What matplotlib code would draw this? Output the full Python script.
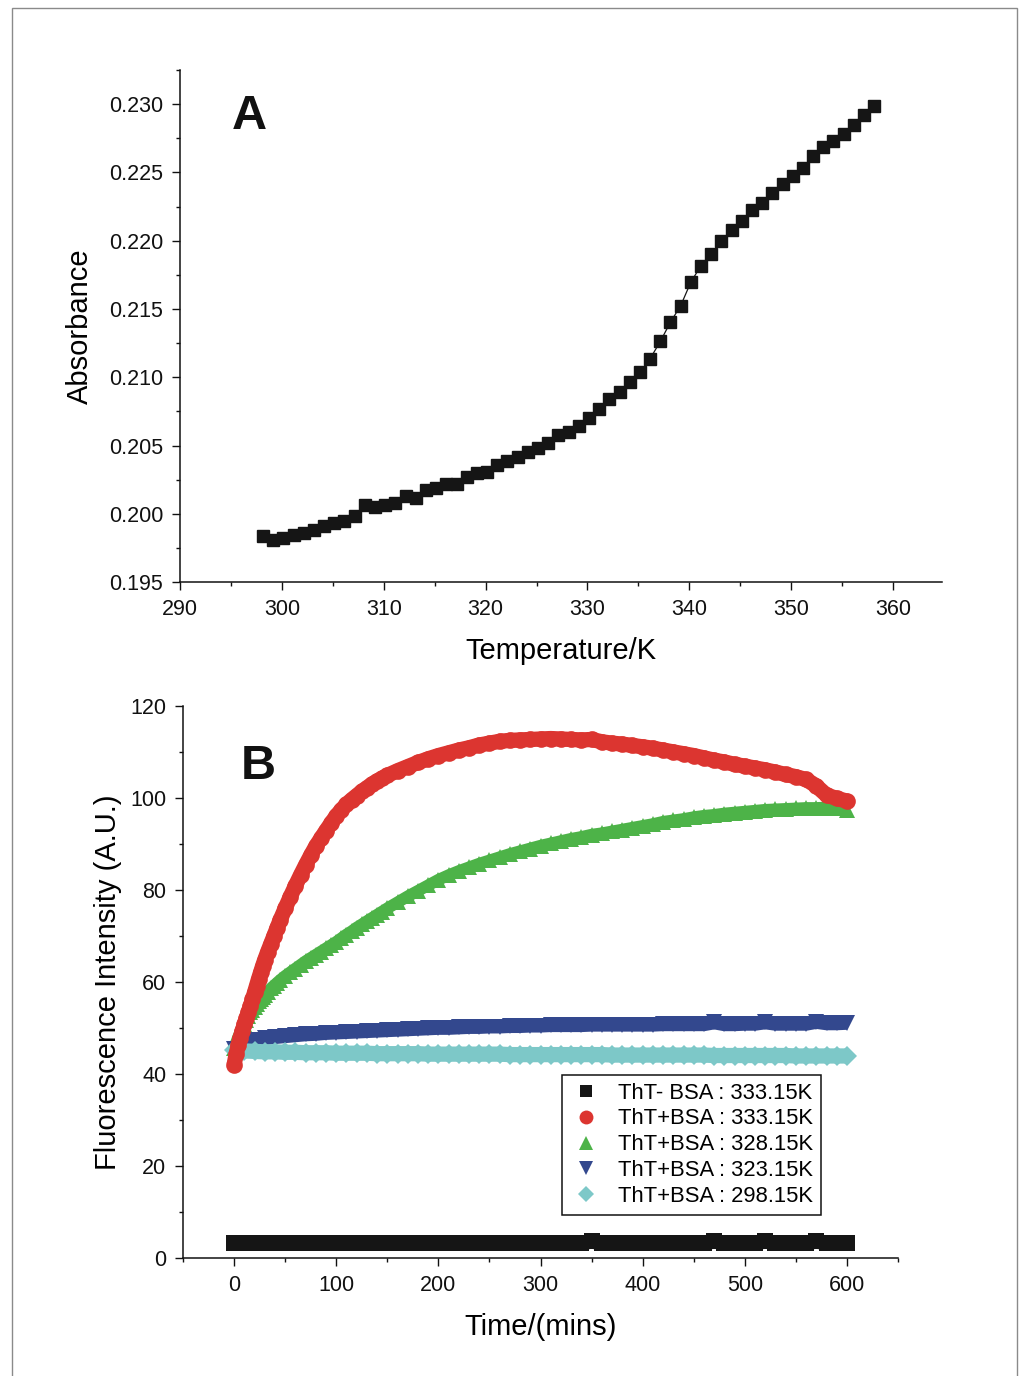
import numpy as np
import matplotlib
matplotlib.use("Agg")
import matplotlib.pyplot as plt
from matplotlib.patches import Rectangle
from matplotlib.lines import Line2D
from matplotlib.ticker import MultipleLocator, FormatStrFormatter

plt.rcParams["font.family"] = ["Liberation Sans", "DejaVu Sans"]

# --- panel A: absorbance vs temperature ---
temp_k = [298.15 + i for i in range(61)]
absorbance = [
    0.19836, 0.19809, 0.19825, 0.19846, 0.19862, 0.19880, 0.19914, 0.19930,
    0.19946, 0.19982, 0.20061, 0.20051, 0.20066, 0.20082, 0.20129, 0.20119,
    0.20171, 0.20187, 0.20218, 0.20218, 0.20271, 0.20297, 0.20308, 0.20360,
    0.20386, 0.20418, 0.20449, 0.20481, 0.20517, 0.20580, 0.20601, 0.20643,
    0.20701, 0.20769, 0.20837, 0.20890, 0.20963, 0.21036, 0.21136, 0.21262,
    0.21404, 0.21524, 0.21697, 0.21818, 0.21902, 0.21996, 0.22080, 0.22143,
    0.22222, 0.22279, 0.22347, 0.22416, 0.22473, 0.22536, 0.22620, 0.22683,
    0.22730, 0.22778, 0.22846, 0.22919, 0.22987,
]

# --- panel B: ThT fluorescence kinetics ---
t_fast = [
    0, 2, 4, 6, 8, 10, 12, 14, 16, 18, 20, 22, 24, 26, 28, 30, 33, 36, 39, 42,
    45, 50, 55, 60, 65, 70, 75, 80, 85, 90, 95, 100, 105, 110, 115, 120, 125,
    130, 135, 140, 145, 150, 160, 170, 180, 190, 200, 210, 220, 230, 240, 250,
    260, 270, 280, 290, 300, 310, 320, 330, 340, 350, 360, 370, 380, 390, 400,
    410, 420, 430, 440, 450, 460, 470, 480, 490, 500, 510, 520, 530, 540, 550,
    560, 570, 580, 590, 600,
]
t_slow = list(range(0, 610, 10))

tht_bsa_333 = [
    42.0, 44.3, 46.2, 47.9, 49.4, 50.8, 52.1, 53.4, 54.8, 56.2, 57.7, 59.2,
    60.7, 62.1, 63.5, 64.8, 66.6, 68.3, 70.0, 71.7, 73.4, 76.0, 78.5, 80.9,
    83.2, 85.4, 87.5, 89.5, 91.2, 92.9, 94.5, 96.1, 97.4, 98.6, 99.6, 100.5,
    101.4, 102.2, 103.0, 103.7, 104.3, 104.9, 105.9, 106.8, 107.7, 108.5,
    109.2, 109.8, 110.4, 110.9, 111.5, 111.9, 112.3, 112.5, 112.6, 112.7,
    112.8, 112.9, 112.8, 112.7, 112.6, 112.7, 112.2, 111.9, 111.7, 111.4,
    111.1, 110.8, 110.4, 110.0, 109.6, 109.2, 108.7, 108.2, 107.8, 107.3,
    106.9, 106.5, 106.1, 105.6, 105.1, 104.6, 104.0, 102.6, 100.6, 99.9, 99.3,
]
tht_bsa_328 = [
    45.6, 46.8, 48.0, 49.0, 50.0, 50.9, 51.8, 52.6, 53.4, 54.0, 54.6, 55.2,
    55.8, 56.3, 56.8, 57.2, 57.9, 58.6, 59.2, 59.8, 60.4, 61.3, 62.1, 62.9,
    63.7, 64.5, 65.2, 65.9, 66.6, 67.3, 68.0, 68.7, 69.5, 70.3, 71.0, 71.8,
    72.5, 73.2, 73.9, 74.6, 75.3, 76.0, 77.3, 78.6, 79.8, 81.0, 82.2, 83.2,
    84.1, 84.9, 85.7, 86.4, 87.1, 87.8, 88.4, 89.0, 89.6, 90.1, 90.6, 91.1,
    91.5, 92.0, 92.3, 92.7, 93.1, 93.5, 93.9, 94.3, 94.8, 95.1, 95.4, 95.8,
    96.1, 96.3, 96.6, 96.8, 97.0, 97.2, 97.4, 97.5, 97.6, 97.7, 97.8, 97.8,
    97.9, 97.7, 97.4,
]
tht_bsa_323 = [
    45.5, 46.8, 47.4, 47.8, 48.0, 48.2, 48.4, 48.6, 48.7, 48.9, 49.0, 49.1,
    49.2, 49.3, 49.4, 49.5, 49.6, 49.7, 49.8, 49.9, 50.0, 50.0, 50.1, 50.2,
    50.2, 50.3, 50.3, 50.4, 50.4, 50.5, 50.5, 50.6, 50.6, 50.6, 50.6, 50.7,
    50.7, 50.7, 50.7, 50.7, 50.7, 50.7, 50.8, 50.8, 50.8, 50.8, 50.8, 51.2,
    50.8, 50.8, 50.9, 50.9, 51.2, 50.9, 50.9, 50.9, 50.9, 51.3, 51.0, 51.0,
    51.1,
]
tht_bsa_298 = [
    45.3, 45.0, 44.9, 44.8, 44.8, 44.7, 44.7, 44.6, 44.6, 44.6, 44.5, 44.5,
    44.5, 44.5, 44.4, 44.4, 44.4, 44.4, 44.4, 44.3, 44.3, 44.3, 44.3, 44.3,
    44.3, 44.3, 44.3, 44.2, 44.2, 44.2, 44.2, 44.2, 44.2, 44.2, 44.2, 44.2,
    44.2, 44.1, 44.1, 44.1, 44.1, 44.1, 44.1, 44.1, 44.1, 44.1, 44.1, 44.0,
    44.0, 44.0, 44.0, 44.0, 44.0, 44.0, 44.0, 43.9, 43.9, 43.9, 43.9, 43.9,
    43.9,
]
tht_no_bsa_333 = [
    3.2, 3.2, 3.2, 3.2, 3.2, 3.2, 3.2, 3.2, 3.2, 3.2, 3.2, 3.2, 3.2, 3.2,
    3.2, 3.2, 3.2, 3.2, 3.2, 3.2, 3.2, 3.2, 3.2, 3.2, 3.2, 3.2, 3.2, 3.2,
    3.2, 3.2, 3.2, 3.2, 3.2, 3.2, 3.2, 3.6, 3.2, 3.2, 3.2, 3.2, 3.2, 3.2,
    3.2, 3.2, 3.2, 3.2, 3.2, 3.6, 3.2, 3.2, 3.2, 3.2, 3.6, 3.2, 3.2, 3.2,
    3.2, 3.6, 3.2, 3.2, 3.2,
]

legend_labels = [
    "ThT- BSA : 333.15K",
    "ThT+BSA : 333.15K",
    "ThT+BSA : 328.15K",
    "ThT+BSA : 323.15K",
    "ThT+BSA : 298.15K",
]

TICK_FS = 15.5
LABEL_FS = 21


def style_axes(ax):
    for side in ("top", "right"):
        ax.spines[side].set_visible(False)
    for side in ("left", "bottom"):
        ax.spines[side].set_linewidth(1.1)
        ax.spines[side].set_color("#111111")
    ax.tick_params(which="major", direction="out", length=5.5, width=1.0,
                   labelsize=TICK_FS, colors="#111111")
    ax.tick_params(axis="x", which="major", pad=7)
    ax.tick_params(axis="y", which="major", pad=6.5)
    ax.tick_params(which="minor", direction="out", length=3.0, width=1.0,
                   colors="#111111")


fig = plt.figure(figsize=(10.22, 13.76), dpi=100)

# thin grey border round the page
fig.add_artist(Rectangle((0.01174, -0.02), 0.98336, 1.01419,
                         transform=fig.transFigure, fill=False,
                         edgecolor="#8a8a8a", linewidth=1.0))

# panel A
axa = fig.add_axes([0.1761, 0.5770, 0.7456, 0.3721])
axa.plot(temp_k, absorbance, color="#151515", linewidth=0.9,
         marker="s", markersize=8.5, markerfacecolor="#151515",
         markeredgecolor="#151515")
axa.set_xlim(290, 364.8)
axa.set_ylim(0.195, 0.2325)
axa.xaxis.set_major_locator(MultipleLocator(10))
axa.xaxis.set_minor_locator(MultipleLocator(5))
axa.yaxis.set_major_locator(MultipleLocator(0.005))
axa.yaxis.set_minor_locator(MultipleLocator(0.0025))
axa.yaxis.set_major_formatter(FormatStrFormatter("%.3f"))
style_axes(axa)
axa.set_xlabel("Temperature/K", fontsize=LABEL_FS, labelpad=12)
axa.set_ylabel("Absorbance", fontsize=LABEL_FS, labelpad=11)
axa.text(0.0906, 0.910, "A", transform=axa.transAxes, fontsize=35,
         fontweight="bold", ha="center", va="center", color="#111111")

# panel B: (times, values, marker, marker size, band width, colour, z)
series_b = [
    (t_slow, tht_no_bsa_333, "s", 11.0, 10.5, "#151515", 3),
    (t_fast, tht_bsa_333, "o", 12.0, 11.0, "#dc3530", 4),
    (t_fast, tht_bsa_328, "^", 11.0, 8.5, "#4db348", 3),
    (t_slow, tht_bsa_323, "v", 12.0, 10.0, "#33488e", 3),
    (t_slow, tht_bsa_298, "D", 10.5, 11.0, "#7dc8c8", 3.5),
]
legend_sizes = [9.0, 10.0, 10.0, 10.0, 8.5]

axb = fig.add_axes([0.1791, 0.0858, 0.6996, 0.4012])
handles = []
for (tt, vals, mk, msz, lw, col, z), lab, lsz in zip(series_b, legend_labels,
                                                      legend_sizes):
    axb.plot(tt, vals, color=col, linewidth=lw, solid_capstyle="butt",
             marker=mk, markersize=msz, markeredgewidth=0, zorder=z)
    handles.append(Line2D([], [], linestyle="none", marker=mk,
                          markersize=lsz, color=col,
                          markeredgewidth=0, label=lab))
axb.set_xlim(-50, 650)
axb.set_ylim(0, 120)
axb.xaxis.set_major_locator(MultipleLocator(100))
axb.xaxis.set_minor_locator(MultipleLocator(50))
axb.yaxis.set_major_locator(MultipleLocator(20))
axb.yaxis.set_minor_locator(MultipleLocator(10))
style_axes(axb)
axb.set_xlabel("Time/(mins)", fontsize=LABEL_FS, labelpad=12)
axb.set_ylabel("Fluorescence Intensity (A.U.)", fontsize=LABEL_FS, labelpad=6)
axb.text(0.1056, 0.890, "B", transform=axb.transAxes, fontsize=35,
         fontweight="bold", ha="center", va="center", color="#111111")

leg = axb.legend(handles=handles, loc="upper right",
                 bbox_to_anchor=(0.892, 0.3315), borderaxespad=0,
                 fontsize=15.8, frameon=True, fancybox=False,
                 edgecolor="#111111", framealpha=1, labelspacing=0.22,
                 handlelength=1.5, handletextpad=0.7, borderpad=0.35)
leg.get_frame().set_linewidth(1.1)

fig.savefig("out.png", dpi=100)
